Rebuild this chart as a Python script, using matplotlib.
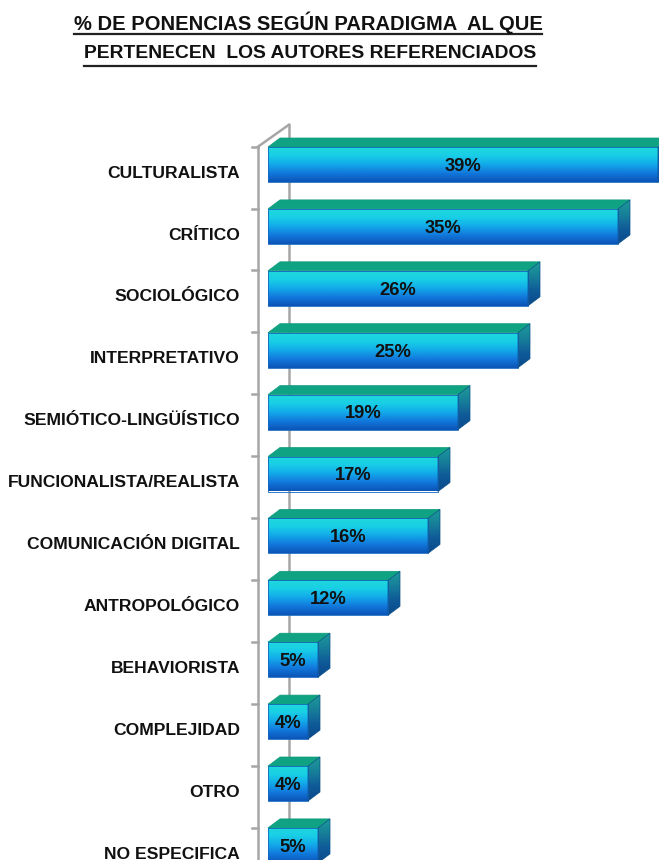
import numpy as np
import matplotlib
matplotlib.use("Agg")
import matplotlib.pyplot as plt
from matplotlib.colors import LinearSegmentedColormap
from matplotlib.patches import Polygon
from matplotlib.lines import Line2D

# data
categorias = ['CULTURALISTA', 'CRÍTICO', 'SOCIOLÓGICO', 'INTERPRETATIVO',
              'SEMIÓTICO-LINGÜÍSTICO', 'FUNCIONALISTA/REALISTA',
              'COMUNICACIÓN DIGITAL', 'ANTROPOLÓGICO', 'BEHAVIORISTA',
              'COMPLEJIDAD', 'OTRO', 'NO ESPECIFICA']
valores = [39, 35, 26, 25, 19, 17, 16, 12, 5, 4, 4, 5]
etiquetas = [f'{v}%' for v in valores]
titulo = ['% DE PONENCIAS SEGÚN PARADIGMA  AL QUE',
          'PERTENECEN  LOS AUTORES REFERENCIADOS']

FONT = ['Liberation Sans Narrow', 'Liberation Sans', 'DejaVu Sans']
plt.rcParams['font.family'] = FONT

W, H = 659, 860
fig = plt.figure(figsize=(W / 100, H / 100), dpi=100)

# axes placed so x=0 sits on the bar start, 10 px per percent
x0_px, top_px = 268, 100
px_per_pct, row_px, first_px = 10.0, 61.9, 164.5
ax = fig.add_axes([x0_px / W, 0, (W - x0_px) / W, (H - top_px) / H])
xmax = (W - x0_px) / px_per_pct
ymin = (top_px - first_px) / row_px
ymax = (H - first_px) / row_px
ax.set_axis_off()

h = 35 / row_px          # bar thickness
dx = 12 / px_per_pct     # depth in x
dy = 9 / row_px          # depth in y

front_cmap = LinearSegmentedColormap.from_list(
    'front', ['#1fd9dc', '#18cde6', '#12a8ea', '#1278dc', '#0c55b8'])
side_cmap = LinearSegmentedColormap.from_list(
    'side', ['#1d9c98', '#177f9a', '#0f5a98', '#0a4a8c'])
grad = np.linspace(0, 1, 64).reshape(-1, 1)

# left wall (grey)
wall = '#a6a6a6'
yb = ymax + 1
wx_front, wx_back = -1.0, 2.1
wtop = -h / 2 - 0.005
ax.add_line(Line2D([wx_front, wx_front], [wtop, yb], color=wall, lw=1.8, clip_on=False, zorder=1))
ax.add_line(Line2D([wx_back, wx_back], [wtop - 22 / row_px, yb], color=wall, lw=1.8, clip_on=False, zorder=1))
ax.add_line(Line2D([wx_front, wx_back], [wtop, wtop - 22 / row_px], color=wall, lw=1.8, clip_on=False, zorder=1))
for i in range(len(categorias)):
    yt = i - h / 2 - 0.005
    ax.add_line(Line2D([wx_front - 0.6, wx_front], [yt, yt], color=wall, lw=1.8, clip_on=False, zorder=1))

for i, (v, lab) in enumerate(zip(valores, etiquetas)):
    top, bot = i - h / 2, i + h / 2
    # front face
    ax.imshow(grad, cmap=front_cmap, extent=(0, v, bot, top), aspect='auto',
              interpolation='bilinear', zorder=3, clip_on=False)
    ax.add_patch(Polygon([(0, top), (v, top), (v, bot), (0, bot)], closed=True,
                         fill=False, ec='#1565c0', lw=0.6, zorder=4, clip_on=False))
    # top face
    ax.add_patch(Polygon([(0, top), (v, top), (v + dx, top - dy), (dx, top - dy)],
                         closed=True, fc='#10a383', ec='#0e9a7c', lw=0.5, zorder=3, clip_on=False))
    # right face
    side = Polygon([(v, top), (v + dx, top - dy), (v + dx, bot - dy), (v, bot)],
                   closed=True, fc='none', ec='#0b4f8a', lw=0.5, zorder=4, clip_on=False)
    ax.add_patch(side)
    im = ax.imshow(grad, cmap=side_cmap, extent=(v, v + dx, bot, top - dy), aspect='auto',
                   interpolation='bilinear', zorder=3)
    im.set_clip_path(side)
    ax.text(v / 2, i + 0.03, lab, ha='center', va='center', fontsize=13.2,
            fontweight='bold', color='#111111', zorder=5)
    # category label
    ax.text(-2.8, i + 0.14, categorias[i], ha='right', va='center', fontsize=12.6,
            fontweight='bold', color='#111111', clip_on=False)

ax.set_xlim(0, xmax)
ax.set_ylim(ymax, ymin)

# title with underline
t1 = fig.text(308 / W, 1 - 23 / H, titulo[0], ha='center', va='center',
              fontsize=14.5, fontweight='bold', color='#111111')
t2 = fig.text(310 / W, 1 - 53 / H, titulo[1], ha='center', va='center',
              fontsize=13.9, fontweight='bold', color='#111111')
fig.canvas.draw()
r = fig.canvas.get_renderer()
for t, uy in ((t1, 34), (t2, 66)):
    bb = t.get_window_extent(r)
    fig.add_artist(Line2D([bb.x0 / W, bb.x1 / W], [1 - uy / H, 1 - uy / H],
                          color='#222222', lw=1.6, transform=fig.transFigure))

fig.savefig('out.png', dpi=100)
